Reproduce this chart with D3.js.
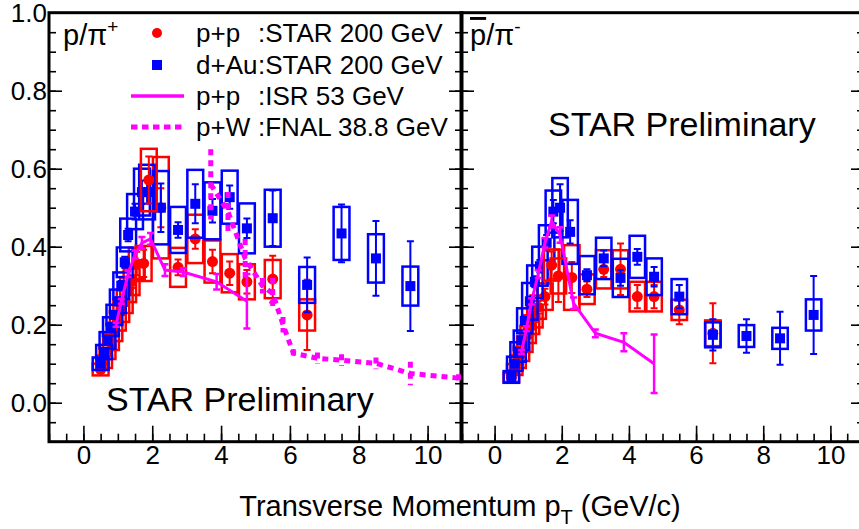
<!DOCTYPE html>
<html>
<head>
<meta charset="utf-8">
<script src="https://cdn.jsdelivr.net/npm/d3@7"></script>
<style>
  body { margin: 0; background: #fff; }
  svg { display: block; font-family: "Liberation Sans", Arial, Helvetica, sans-serif; }
</style>
</head>
<body>
<div id="chart"></div>
<script>
// ---- values ----
const xTicks = [0, 2, 4, 6, 8, 10];
const yTicks = [0.0, 0.2, 0.4, 0.6, 0.8, 1.0];

// left panel : p/pi+
const ppLeftPt  = [0.5, 0.6, 0.7, 0.8, 0.9, 1.0, 1.1, 1.2, 1.3, 1.4, 1.55, 1.75, 1.9, 2.25, 2.75, 3.25, 3.75, 4.25, 4.75, 5.5, 6.5];
const ppLeftVal = [0.085, 0.105, 0.13, 0.155, 0.18, 0.21, 0.235, 0.26, 0.29, 0.31, 0.357, 0.357, 0.571, 0.50, 0.347, 0.42, 0.362, 0.332, 0.31, 0.317, 0.225];
const ppLeftErr = [0.005, 0.005, 0.006, 0.007, 0.008, 0.009, 0.01, 0.012, 0.014, 0.016, 0.03, 0.035, 0.06, 0.05, 0.02, 0.025, 0.03, 0.03, 0.03, 0.06, 0.09];
const ppLeftSys = [0.015, 0.016, 0.018, 0.02, 0.022, 0.025, 0.028, 0.03, 0.032, 0.034, 0.04, 0.045, 0.08, 0.13, 0.05, 0.062, 0.054, 0.049, 0.045, 0.049, 0.04];

const daLeftPt  = [0.5, 0.6, 0.7, 0.8, 0.9, 1.0, 1.1, 1.2, 1.3, 1.5, 1.7, 1.85, 2.25, 2.75, 3.25, 3.75, 4.25, 4.75, 5.5, 6.5, 7.5, 8.5, 9.5];
const daLeftVal = [0.10, 0.13, 0.16, 0.195, 0.225, 0.26, 0.30, 0.36, 0.43, 0.49, 0.54, 0.54, 0.50, 0.443, 0.51, 0.492, 0.527, 0.447, 0.473, 0.302, 0.434, 0.37, 0.299];
const daLeftErr = [0.005, 0.006, 0.007, 0.008, 0.009, 0.01, 0.012, 0.014, 0.016, 0.02, 0.03, 0.03, 0.062, 0.02, 0.05, 0.03, 0.03, 0.025, 0.071, 0.07, 0.074, 0.096, 0.115];
const daLeftSys = [0.016, 0.018, 0.021, 0.024, 0.026, 0.03, 0.034, 0.038, 0.042, 0.045, 0.06, 0.07, 0.094, 0.059, 0.087, 0.073, 0.068, 0.064, 0.073, 0.046, 0.068, 0.062, 0.05];

const isrLeftPt  = [0.95, 1.1, 1.3, 1.5, 1.7, 1.95, 2.37, 2.9, 3.87, 4.75];
const isrLeftVal = [0.2, 0.26, 0.33, 0.38, 0.41, 0.42, 0.34, 0.335, 0.31, 0.26];
const isrLeftErr = [0.005, 0.006, 0.008, 0.01, 0.015, 0.015, 0.015, 0.01, 0.02, 0.07];

const fnalPt  = [3.7, 4.2, 4.7, 5.2, 5.5, 5.8, 6.1, 6.8, 7.5, 8.5, 9.5, 10.9];
const fnalVal = [0.56, 0.49, 0.37, 0.30, 0.28, 0.20, 0.127, 0.114, 0.109, 0.101, 0.075, 0.063];
const fnalErr = [0.09, 0.05, 0.05, 0.02, 0.04, 0.02, 0.01, 0.015, 0.015, 0.015, 0.03, 0.01];

// right panel : pbar/pi-
const ppRightPt  = [0.5, 0.6, 0.7, 0.8, 0.9, 1.0, 1.1, 1.2, 1.3, 1.5, 1.7, 1.9, 2.3, 2.75, 3.25, 3.75, 4.25, 4.75, 5.5, 6.5];
const ppRightVal = [0.065, 0.085, 0.105, 0.125, 0.15, 0.175, 0.2, 0.22, 0.245, 0.272, 0.353, 0.325, 0.321, 0.291, 0.342, 0.342, 0.272, 0.272, 0.238, 0.178];
const ppRightErr = [0.004, 0.005, 0.006, 0.007, 0.008, 0.01, 0.012, 0.014, 0.016, 0.02, 0.035, 0.067, 0.04, 0.02, 0.02, 0.066, 0.03, 0.03, 0.037, 0.077];
const ppRightSys = [0.012, 0.014, 0.016, 0.018, 0.02, 0.022, 0.024, 0.027, 0.03, 0.034, 0.04, 0.045, 0.083, 0.038, 0.049, 0.049, 0.038, 0.038, 0.026, 0.033];

const daRightPt  = [0.5, 0.6, 0.7, 0.8, 0.9, 1.05, 1.2, 1.35, 1.55, 1.75, 1.95, 2.25, 2.75, 3.25, 3.75, 4.25, 4.75, 5.5, 6.5, 7.5, 8.5, 9.5];
const daRightVal = [0.066, 0.1, 0.13, 0.16, 0.21, 0.26, 0.31, 0.35, 0.41, 0.49, 0.5, 0.438, 0.327, 0.37, 0.32, 0.374, 0.323, 0.272, 0.174, 0.171, 0.165, 0.225];
const daRightErr = [0.005, 0.006, 0.007, 0.008, 0.01, 0.012, 0.014, 0.016, 0.02, 0.03, 0.06, 0.03, 0.015, 0.02, 0.02, 0.02, 0.025, 0.03, 0.04, 0.043, 0.068, 0.1];
const daRightSys = [0.015, 0.018, 0.025, 0.025, 0.032, 0.047, 0.042, 0.05, 0.045, 0.054, 0.076, 0.082, 0.049, 0.053, 0.049, 0.054, 0.047, 0.045, 0.032, 0.028, 0.027, 0.04];

const isrRightPt  = [0.8, 0.95, 1.1, 1.3, 1.5, 1.7, 1.95, 2.35, 3.0, 3.85, 4.75];
const isrRightVal = [0.13, 0.19, 0.26, 0.33, 0.41, 0.465, 0.43, 0.255, 0.178, 0.155, 0.1];
const isrRightErr = [0.005, 0.006, 0.008, 0.01, 0.012, 0.015, 0.02, 0.015, 0.01, 0.023, 0.075];

const legendSys  = ["p+p", "d+Au", "p+p", "p+W"];
const legendExp  = [":STAR 200 GeV", ":STAR 200 GeV", ":ISR 53 GeV", ":FNAL 38.8 GeV"];

// ---- layout ----
const width = 859, height = 529;
const red = "#ff0000", blue = "#0000ff", magenta = "#ff00ff";
const boxHalf = 0.23;   // half width of the systematic boxes, in GeV/c

const y = d3.scaleLinear().domain([-0.1, 1.0]).range([441.7, 12.7]);
const xL = d3.scaleLinear().domain([-1, 11]).range([49, 462]);
const xR = d3.scaleLinear().domain([-1, 11]).range([461, 864]);

const svg = d3.select("#chart").append("svg")
    .attr("width", width)
    .attr("height", height);

const zip = (pt, v, e, s) => pt.map((p, i) => ({p: p, v: v[i], e: e[i], s: s ? s[i] : 0}));

function drawFrame(x, showLabels) {
    const g = svg.append("g");
    const [x0, x1] = x.range();
    const minorX = d3.range(-1, 11.01, 0.5);
    const minorY = d3.range(-0.1, 1.001, 0.05).map(v => Math.round(v * 100) / 100);

    // bottom axis, ticks pointing up
    g.append("g").attr("transform", "translate(0," + y.range()[0] + ")")
        .call(d3.axisBottom(x).tickValues(minorX).tickSize(-8).tickFormat(""));
    const bx = g.append("g").attr("transform", "translate(0," + y.range()[0] + ")")
        .call(d3.axisBottom(x).tickValues(xTicks).tickSize(-16).tickPadding(4).tickFormat(d3.format("d")));
    bx.selectAll("text").attr("font-size", 26).attr("fill", "#000");

    // left axis
    g.append("g").attr("transform", "translate(" + x0 + ",0)")
        .call(d3.axisLeft(y).tickValues(minorY).tickSize(-7).tickFormat(""));
    const ly = g.append("g").attr("transform", "translate(" + x0 + ",0)")
        .call(d3.axisLeft(y).tickValues(yTicks).tickSize(-13).tickPadding(2)
            .tickFormat(showLabels ? d3.format(".1f") : ""));
    ly.selectAll("text").attr("font-size", 26).attr("fill", "#000");

    // right axis, ticks pointing left
    g.append("g").attr("transform", "translate(" + x1 + ",0)")
        .call(d3.axisRight(y).tickValues(minorY).tickSize(-7).tickFormat(""));
    g.append("g").attr("transform", "translate(" + x1 + ",0)")
        .call(d3.axisRight(y).tickValues(yTicks).tickSize(-13).tickFormat(""));

    g.selectAll(".domain").remove();
    g.selectAll(".tick line").attr("stroke", "#000").attr("stroke-width", 1.6);

    g.append("rect")
        .attr("x", x0).attr("y", y.range()[1])
        .attr("width", x1 - x0).attr("height", y.range()[0] - y.range()[1])
        .attr("fill", "none").attr("stroke", "#000").attr("stroke-width", 3);
}

function drawBoxes(g, x, data, color) {
    g.selectAll(null).data(data).enter().append("rect")
        .attr("x", d => x(d.p - boxHalf))
        .attr("width", d => x(d.p + boxHalf) - x(d.p - boxHalf))
        .attr("y", d => y(d.v + d.s))
        .attr("height", d => y(d.v - d.s) - y(d.v + d.s))
        .attr("fill", "none")
        .attr("stroke", color)
        .attr("stroke-width", 2.5);
}

function drawErrors(g, x, data, color, w, dash) {
    const bars = g.selectAll(null).data(data).enter().append("g")
        .attr("stroke", color).attr("stroke-width", w)
        .attr("stroke-dasharray", dash || null);
    bars.append("line")
        .attr("x1", d => x(d.p)).attr("x2", d => x(d.p))
        .attr("y1", d => y(d.v + d.e)).attr("y2", d => y(d.v - d.e));
    if (!dash) {
        [1, -1].forEach(sg => {
            bars.append("line")
                .attr("x1", d => x(d.p) - 3.5).attr("x2", d => x(d.p) + 3.5)
                .attr("y1", d => y(d.v + sg * d.e)).attr("y2", d => y(d.v + sg * d.e));
        });
    }
}

function drawCircles(g, x, data) {
    g.selectAll(null).data(data).enter().append("circle")
        .attr("cx", d => x(d.p)).attr("cy", d => y(d.v))
        .attr("r", 5.5).attr("fill", red);
}

function drawSquares(g, x, data) {
    g.selectAll(null).data(data).enter().append("rect")
        .attr("x", d => x(d.p) - 5).attr("y", d => y(d.v) - 5)
        .attr("width", 10).attr("height", 10).attr("fill", blue);
}

function drawPanel(x, pp, da, isr, id) {
    svg.append("clipPath").attr("id", id)
        .append("rect")
        .attr("x", x.range()[0]).attr("y", y.range()[1])
        .attr("width", x.range()[1] - x.range()[0])
        .attr("height", y.range()[0] - y.range()[1]);
    const g = svg.append("g").attr("clip-path", "url(#" + id + ")");

    // the p+p points around the peak sit on top of the d+Au boxes, the rest under
    const onTop = d => d.p >= 1.6 && d.p < 2.0;
    const ppUnder = pp.filter(d => !onTop(d)), ppOver = pp.filter(onTop);
    drawBoxes(g, x, ppUnder, red);
    drawErrors(g, x, ppUnder, red, 2);
    drawCircles(g, x, ppUnder);

    drawBoxes(g, x, da, blue);
    drawErrors(g, x, da, blue, 2);
    drawSquares(g, x, da);

    drawBoxes(g, x, ppOver, red);
    drawErrors(g, x, ppOver, red, 2);
    drawCircles(g, x, ppOver);

    g.append("path").datum(isr)
        .attr("fill", "none").attr("stroke", magenta).attr("stroke-width", 3)
        .attr("d", d3.line().x(d => x(d.p)).y(d => y(d.v)));
    drawErrors(g, x, isr, magenta, 2.5);
    return g;
}

drawFrame(xL, true);
drawFrame(xR, false);

const gl = drawPanel(xL,
    zip(ppLeftPt, ppLeftVal, ppLeftErr, ppLeftSys),
    zip(daLeftPt, daLeftVal, daLeftErr, daLeftSys),
    zip(isrLeftPt, isrLeftVal, isrLeftErr), "clipL");

const fnal = zip(fnalPt, fnalVal, fnalErr);
gl.append("path").datum(fnal)
    .attr("fill", "none").attr("stroke", magenta).attr("stroke-width", 5)
    .attr("stroke-dasharray", "6,5")
    .attr("d", d3.line().x(d => xL(d.p)).y(d => y(d.v)));
drawErrors(gl, xL, fnal, magenta, 5, "6,5");

drawPanel(xR,
    zip(ppRightPt, ppRightVal, ppRightErr, ppRightSys),
    zip(daRightPt, daRightVal, daRightErr, daRightSys),
    zip(isrRightPt, isrRightVal, isrRightErr), "clipR");

// panel labels
const lab = svg.append("text").attr("x", 63).attr("y", 45).attr("font-size", 29);
lab.append("tspan").text("p/\u03c0");
lab.append("tspan").attr("dy", -12).attr("font-size", 19).text("+");

const labR = svg.append("text").attr("x", 470).attr("y", 45).attr("font-size", 29);
labR.append("tspan").style("text-decoration", "overline").text("p");
labR.append("tspan").text("/\u03c0");
labR.append("tspan").attr("dy", -12).attr("font-size", 19).text("-");

svg.append("text").attr("x", 106).attr("y", 411).attr("font-size", 34).text("STAR Preliminary");
svg.append("text").attr("x", 548).attr("y", 136).attr("font-size", 34).text("STAR Preliminary");

// legend
const legend = svg.append("g");
const rowY = [33, 65, 96, 127];
legend.append("circle").attr("cx", 157).attr("cy", rowY[0]).attr("r", 5).attr("fill", red);
legend.append("rect").attr("x", 152).attr("y", rowY[1] - 5).attr("width", 10).attr("height", 10).attr("fill", blue);
legend.append("line").attr("x1", 131).attr("x2", 184).attr("y1", rowY[2]).attr("y2", rowY[2])
    .attr("stroke", magenta).attr("stroke-width", 3.5);
legend.append("line").attr("x1", 131).attr("x2", 184).attr("y1", rowY[3]).attr("y2", rowY[3])
    .attr("stroke", magenta).attr("stroke-width", 5).attr("stroke-dasharray", "6.5,4.5");
legendSys.forEach((s, i) => {
    legend.append("text").attr("x", 196).attr("y", rowY[i] + 9).attr("font-size", 26).text(s);
    legend.append("text").attr("x", 258).attr("y", rowY[i] + 9).attr("font-size", 26).text(legendExp[i]);
});

// x title
const title = svg.append("text").attr("x", 460).attr("y", 516)
    .attr("text-anchor", "middle").attr("font-size", 29);
title.append("tspan").text("Transverse Momentum p");
title.append("tspan").attr("dy", 8).attr("font-size", 20).text("T");
title.append("tspan").attr("dy", -8).text(" (GeV/c)");
</script>
</body>
</html>
